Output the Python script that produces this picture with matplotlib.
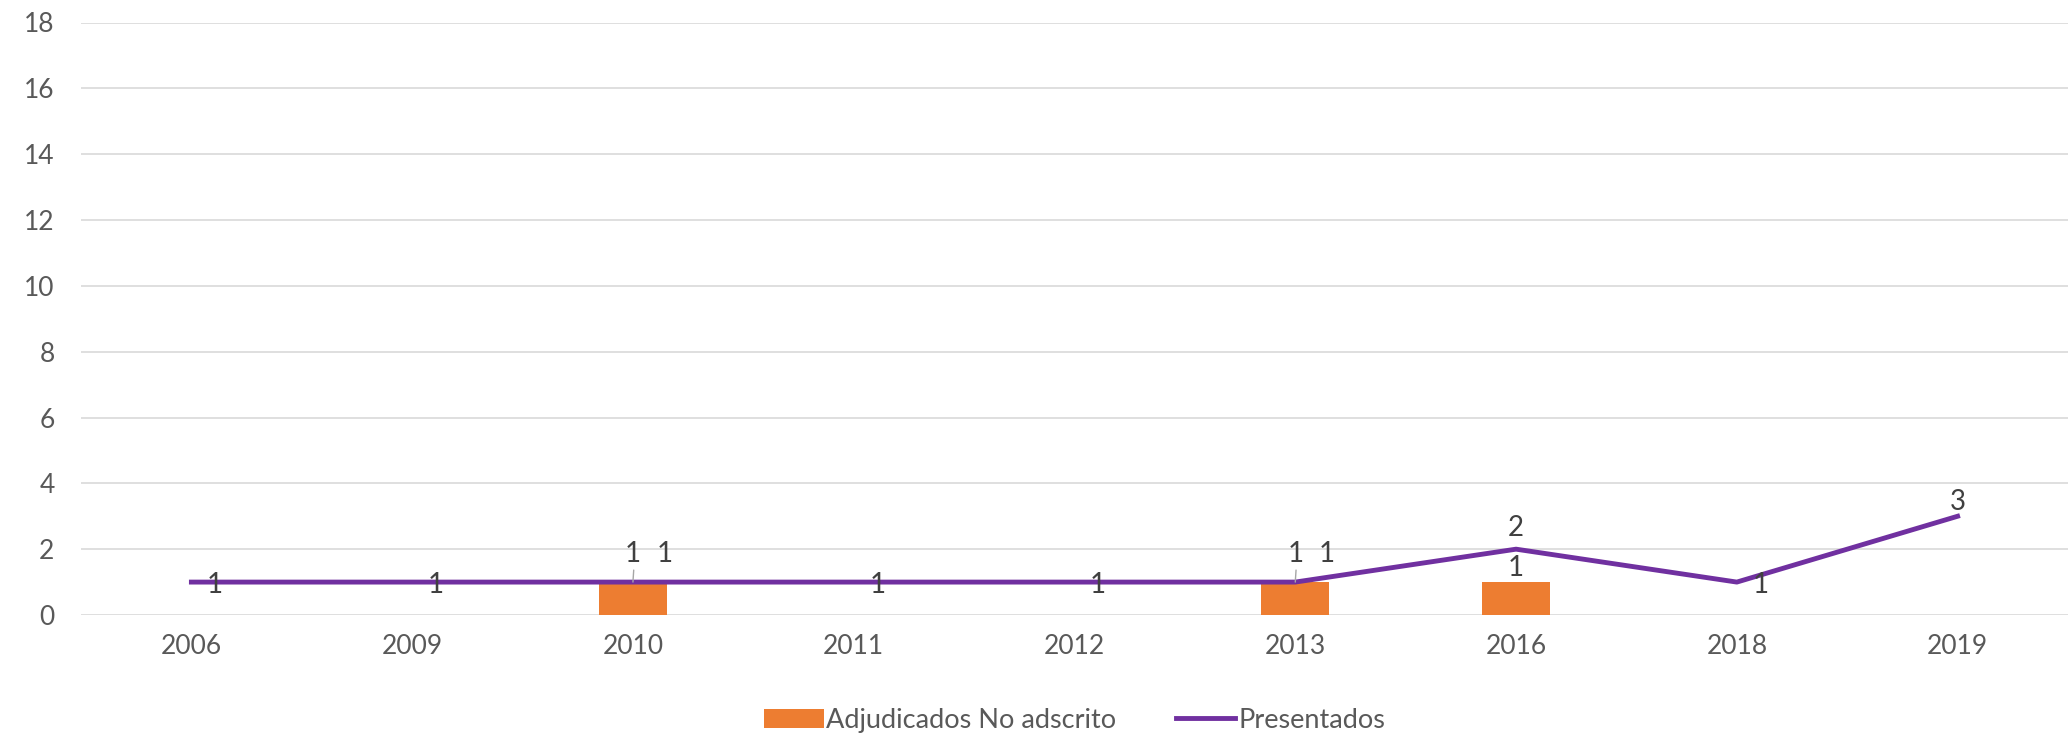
import numpy as np
import matplotlib.pyplot as plt

years = ['2006', '2009', '2010', '2011', '2012', '2013', '2016', '2018', '2019']
adjudicados = [0, 0, 1, 0, 0, 1, 1, 0, 0]
presentados = [1, 1, 1, 1, 1, 1, 2, 1, 3]

plt.rcParams['font.family'] = ['Lato', 'DejaVu Sans']

fig = plt.figure(figsize=(20.7, 7.37), dpi=100)
ax = fig.add_axes([81 / 2070, 1 - 615 / 737, 1987 / 2070, (615 - 22.5) / 737])

x = np.arange(len(years))
bars = ax.bar(x, adjudicados, width=0.31, color='#ED7D31', label='Adjudicados No adscrito', zorder=2)
line, = ax.plot(x, presentados, color='#7030A0', lw=3.5, label='Presentados', zorder=3)

ax.set_xlim(-0.5, len(years) - 0.5)
ax.set_ylim(0, 18)
ax.set_yticks(range(0, 19, 2))
ax.set_xticks(x)
ax.set_xticklabels(years)
ax.grid(axis='y', color='#D9D9D9', lw=1.2, zorder=0)
ax.set_axisbelow(True)
for s in ax.spines.values():
    s.set_visible(False)
ax.tick_params(length=0, labelsize=19, colors='#595959')
ax.tick_params(axis='y', pad=19)
ax.tick_params(axis='x', pad=14)

lbl = dict(fontsize=20, color='#404040', ha='center', va='center')
# line labels (offsets in points)
offs = [(17, -2), (17, -2), (23, 20), (17, -2), (17, -2), (23, 20), (0, 15), (17, -2), (0, 10)]
for i, (v, o) in enumerate(zip(presentados, offs)):
    ax.annotate(str(v), (x[i], v), xytext=o, textcoords='offset points', **lbl)
# bar labels
for i, v in enumerate(adjudicados):
    if v == 0:
        continue
    if years[i] == '2016':
        ax.annotate(str(v), (x[i], v), xytext=(0, 10), textcoords='offset points', **lbl)
    else:
        ax.annotate(str(v), (x[i], v), xytext=(0, 20), textcoords='offset points',
                    arrowprops=dict(arrowstyle='-', color='#A6A6A6', lw=1,
                                    shrinkA=0, shrinkB=0, relpos=(0.6, 0.4)),
                    **lbl)

ax.legend([bars, line], ['Adjudicados No adscrito', 'Presentados'],
          loc='upper center', bbox_to_anchor=(0.5, -0.115), ncol=2, frameon=False,
          fontsize=19.5, labelcolor='#595959', handlelength=2.2, handletextpad=0.1,
          columnspacing=2.2)

fig.savefig('out.png', dpi=100)
